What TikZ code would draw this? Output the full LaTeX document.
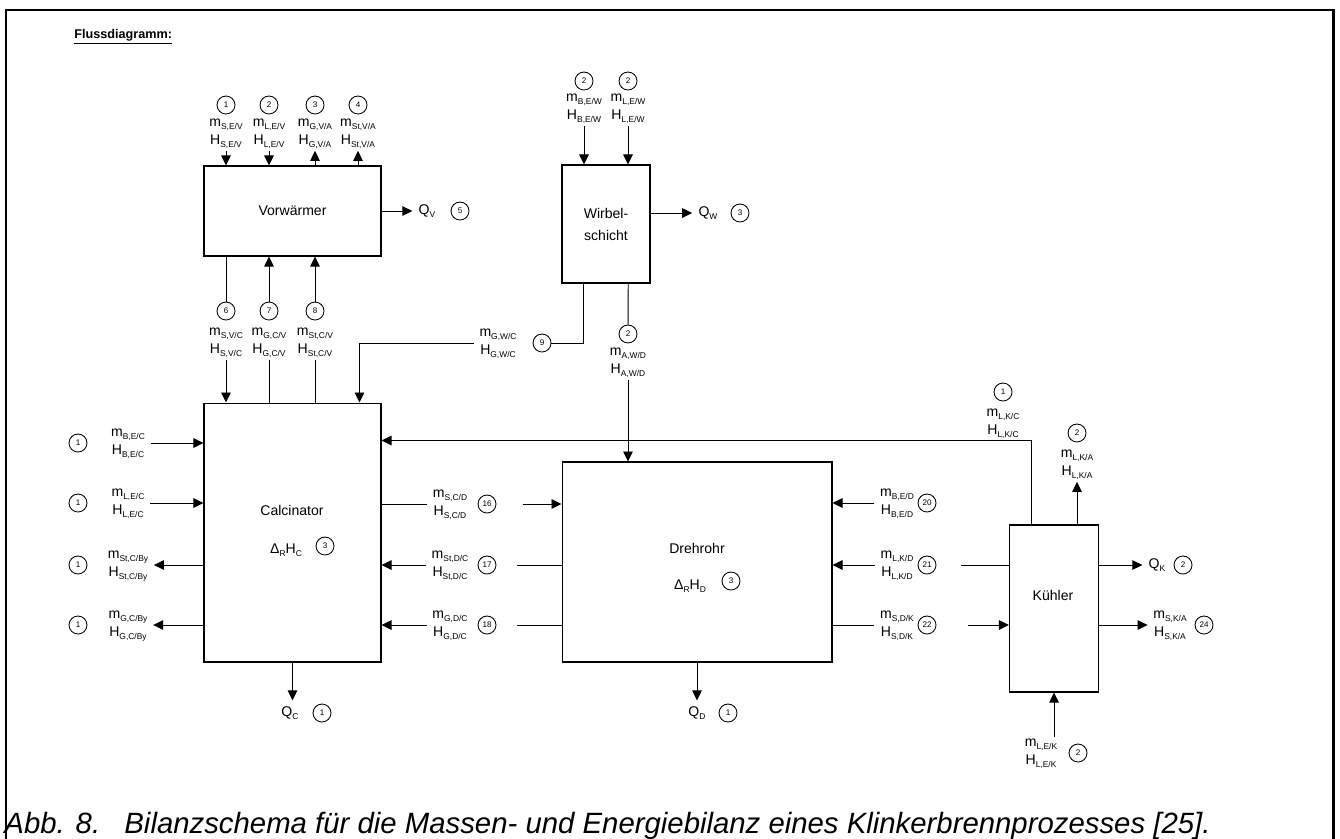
\documentclass[tikz,border=0pt]{standalone}
\usepackage{fontspec}
\setmainfont{Liberation Sans}
\usepackage{tikz}
\usetikzlibrary{arrows.meta,calc}

\newcommand{\lsub}[1]{\raisebox{-0.35ex}{\fontsize{4.8}{5}\selectfont #1}}
\newcommand{\mH}[1]{m\lsub{#1}\\H\lsub{#1}}

\begin{document}
\begin{tikzpicture}[x=0.02cm,y=-0.02cm,>={Triangle[length=0.2cm,width=0.19cm]},
  font=\fontsize{8}{10.2}\selectfont,line width=0.55pt,
  proc/.style={draw,line width=0.6pt,inner sep=0pt,align=center},
  num/.style={circle,draw,line width=0.5pt,minimum size=0.36cm,inner sep=0pt,font=\fontsize{4.6}{4.6}\selectfont},
  flow/.style={align=center,inner xsep=3pt,inner ysep=1pt}]
\useasboundingbox (0,0) rectangle (1340,839);
\clip (0,0) rectangle (1340,839);
% frame and title
\draw[line width=1.7pt] (6,860) -- (6,10) -- (1333,10) -- (1333,860);
\node[anchor=west,font=\bfseries\fontsize{7.2}{8}\selectfont] (title) at (68,37) {\underline{Flussdiagramm:}};

% units
\node[proc,minimum width=3.54cm,minimum height=1.8cm] (vw) at (292.5,211) {Vorwärmer};
\node[proc,minimum width=1.76cm,minimum height=2.36cm,font=\fontsize{8}{12.5}\selectfont] (ws) at (606,224) {Wirbel-\\schicht};
\node[proc,minimum width=3.54cm,minimum height=5.18cm] (calc) at (292.5,532.5) {};
\node[proc,minimum width=5.4cm,minimum height=4cm] (dreh) at (697,562) {};
\node[proc,minimum width=1.78cm,minimum height=3.34cm] (kh) at (1054,608.5) {};
\node (calcname) at (292,510) {Calcinator};
\node (calcdh) at (286,550) {Δ\lsub{R}H\lsub{C}};
\node[num] (c3c) at (325,546) {3};
\node (drehname) at (697,548) {Drehrohr};
\node (drehdh) at (690,586) {Δ\lsub{R}H\lsub{D}};
\node[num] (c3d) at (731,581) {3};
\node (khname) at (1053,595) {Kühler};

% Vorwaermer
\foreach \x/\n/\s in {226/1/{S,E/V},269/2/{L,E/V},315/3/{G,V/A},358/4/{St,V/A}}{
  \node[num] (vt\n) at (\x,105) {\n};
  \node[flow] (fvt\n) at (\x,134) {\mH{\s}};
}
\draw[->] (fvt1) -- (fvt1 |- vw.north);
\draw[->] (fvt2) -- (fvt2 |- vw.north);
\draw[->] (fvt3 |- vw.north) -- (fvt3);
\draw[->] (fvt4 |- vw.north) -- (fvt4);
\node (qv) at (427,211) {Q\lsub{V}};
\node[num] (c5) at (460,211) {5};
\draw[->] (vw.east |- qv) -- (qv);
\foreach \x/\n/\s in {226/6/{S,V/C},269/7/{G,C/V},315/8/{St,C/V}}{
  \node[num] (vb\n) at (\x,311) {\n};
  \node[flow] (fvb\n) at (\x,343) {\mH{\s}};
}
\draw (vw.south -| vb6) -- (vb6);
\draw[->] (fvb6) -- (fvb6 |- calc.north);
\draw[->] (vb7) -- (vb7 |- vw.south);
\draw (fvb7) -- (fvb7 |- calc.north);
\draw[->] (vb8) -- (vb8 |- vw.south);
\draw (fvb8) -- (fvb8 |- calc.north);

% Wirbelschicht
\foreach \x/\n/\s in {584/1/{B,E/W},628/2/{L,E/W}}{
  \node[num] (wt\n) at (\x,81) {2};
  \node[flow] (fwt\n) at (\x,109) {\mH{\s}};
  \draw[->] (fwt\n) -- (fwt\n |- ws.north);
}
\node (qw) at (708,213) {Q\lsub{W}};
\node[num] (c3w) at (740,213) {3};
\draw[->] (ws.east |- qw) -- (qw);
\node[num] (c9) at (542,343) {9};
\node[flow] (fgwc) at (498,344) {\mH{G,W/C}};
\draw (c9) -| ($(ws.south west)!0.25!(ws.south east)$);
\draw[->] (fgwc.west |- c9) -| ($(calc.north west)+(156,0)$);
\node[num] (caw) at (628,334) {2};
\node[flow] (fawd) at (628,363) {\mH{A,W/D}};
\draw ($(ws.south west)!0.75!(ws.south east)$) -- (caw);
\draw[->] (fawd) -- (fawd |- dreh.north);

% Calcinator left
\foreach \y/\n/\s in {443/a/{B,E/C},503/b/{L,E/C},565/c/{St,C/By},625/d/{G,C/By}}{
  \node[num] (cl\n) at (78,\y) {1};
  \node[flow] (fl\n) at (128,\y+1) {\mH{\s}};
}
\draw[->] (fla.east |- cla) -- (calc.west |- cla);
\draw[->] (flb.east |- clb) -- (calc.west |- clb);
\draw[->] (calc.west |- clc) -- (flc.east |- clc);
\draw[->] (calc.west |- cld) -- (fld.east |- cld);
\node (qc) at (290,713) {Q\lsub{C}};
\node[num] (cqc) at (322,713) {1};
\draw[->] (calc.south) -- (calc.south |- qc.north);

% Calcinator - Drehrohr
\foreach \y/\n/\s in {504/16/{S,C/D},565/17/{St,D/C},625/18/{G,D/C}}{
  \node[flow] (fm\n) at (450,\y+1) {\mH{\s}};
  \node[num] (cm\n) at (487,\y) {\n};
}
\draw (calc.east |- cm16) -- (fm16.west |- cm16);
\draw[->] ([xshift=0.54cm]cm16.east) -- (dreh.west |- cm16);
\draw[->] (fm17.west |- cm17) -- (calc.east |- cm17);
\draw ([xshift=0.42cm]cm17.east) -- (dreh.west |- cm17);
\draw[->] (fm18.west |- cm18) -- (calc.east |- cm18);
\draw ([xshift=0.42cm]cm18.east) -- (dreh.west |- cm18);
\node (qd) at (697,713) {Q\lsub{D}};
\node[num] (cqd) at (728,713) {1};
\draw[->] (dreh.south) -- (dreh.south |- qd.north);

% Drehrohr - Kuehler
\foreach \y/\n/\s in {503/20/{B,E/D},565/21/{L,K/D},625/22/{S,D/K}}{
  \node[flow] (fd\n) at (897,\y+1) {\mH{\s}};
  \node[num] (cd\n) at (927,\y) {\n};
}
\draw[->] (fd20.west |- cd20) -- (dreh.east |- cd20);
\draw[->] (fd21.west |- cd21) -- (dreh.east |- cd21);
\draw ([xshift=0.5cm]cd21.east) -- (kh.west |- cd21);
\draw (dreh.east |- cd22) -- (fd22.west |- cd22);
\draw[->] ([xshift=0.64cm]cd22.east) -- (kh.west |- cd22);

% Kuehler
\node[num] (ckc) at (1003,392) {1};
\node[flow] (fkc) at (1003,424) {\mH{L,K/C}};
\draw[->] ($(kh.north west)+(22,0)$) |- ($(calc.north east)+(0,38)$);
\node[num] (cka) at (1077,433) {2};
\node[flow] (fka) at (1077,465) {\mH{L,K/A}};
\draw[->] (kh.north -| fka) -- (fka);
\node (qk) at (1157,565) {Q\lsub{K}};
\node[num] (cqk) at (1183,565) {2};
\draw[->] (kh.east |- qk) -- (qk);
\node[flow] (fska) at (1170,626) {\mH{S,K/A}};
\node[num] (c24) at (1204,625) {24};
\draw[->] (kh.east |- c24) -- (fska.west |- c24);
\node[flow] (fek) at (1041,754) {\mH{L,E/K}};
\node[num] (cek) at (1078,753) {2};
\draw[->] (fek.north -| kh.south) -- (kh.south);

\node[anchor=base west,inner sep=0pt,font=\itshape\fontsize{16.7}{20}\selectfont] (caption) at (4,833) {\makebox[2.4cm][l]{Abb. 8.}Bilanzschema für die Massen- und Energiebilanz eines Klinkerbrennprozesses [25].};
\end{tikzpicture}
\end{document}
